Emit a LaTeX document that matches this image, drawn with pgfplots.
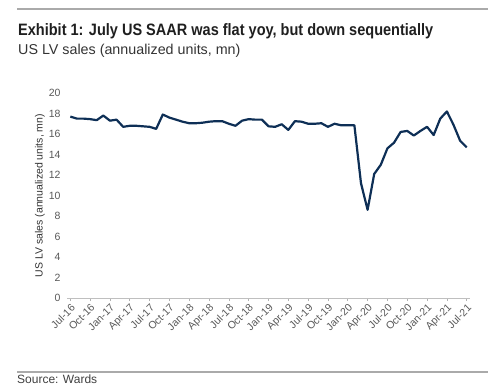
\documentclass[border=0pt]{standalone}
\usepackage{pgfplots}
\pgfplotsset{compat=1.18}
\usepackage{fontspec}
\setmainfont{Liberation Sans}
\newfontfamily\narrowfont[FakeStretch=0.88]{Liberation Sans}
\definecolor{navy}{HTML}{0E2F56}
\definecolor{tickgray}{HTML}{595959}
\definecolor{rulegray}{HTML}{AAAAAA}
\begin{document}
\begin{tikzpicture}[x=1pt,y=1pt]
\path[use as bounding box] (0,0) rectangle (500,388);
\draw[rulegray,line width=1.2pt] (17,379) -- (488,379);
\draw[rulegray,line width=1.2pt] (17,16) -- (488,16);
\node[anchor=base west,inner sep=0pt,text=black!88] at (18,352) {\narrowfont\bfseries\fontsize{16.5}{18}\selectfont Exhibit 1: July US SAAR was flat yoy, but down sequentially};
\node[anchor=base west,inner sep=0pt,text=black!80] at (18,333) {\fontsize{14.3}{16}\selectfont US LV sales (annualized units, mn)};
\node[anchor=base west,inner sep=0pt,text=black!75] at (17,5) {\fontsize{12}{14}\selectfont Source: Wards};
\begin{axis}[
  at={(67pt,90pt)}, anchor=south west,
  scale only axis, width=403pt, height=205pt,
  xmin=-0.5, xmax=60.5, ymin=0, ymax=20,
  ytick={0,2,...,20},
  xtick={0,3,...,60},
  xticklabels={Jul-16,Oct-16,Jan-17,Apr-17,Jul-17,Oct-17,Jan-18,Apr-18,Jul-18,Oct-18,Jan-19,Apr-19,Jul-19,Oct-19,Jan-20,Apr-20,Jul-20,Oct-20,Jan-21,Apr-21,Jul-21},
  axis x line*=bottom, axis y line*=left,
  y axis line style={draw=none},
  x axis line style={draw=black!25, line width=0.8pt},
  ytick style={draw=none},
  xtick style={draw=black!30, line width=0.6pt},
  tick align=outside, major tick length=3pt,
  /pgf/number format/assume math mode=true,
  tick label style={font=\fontsize{10.5}{12}\selectfont, text=tickgray},
  x tick label style={rotate=45, anchor=north east, inner sep=1.5pt},
  ylabel={US LV sales (annualized units, mn)},
  ylabel style={at={(axis description cs:-0.067,0.5)}, anchor=center, font=\fontsize{10.5}{12}\selectfont, text=black!80},
  clip=false,
]
\addplot[navy, line width=2.2pt, line join=round] coordinates {
(0,17.7)(1,17.5)(2,17.5)(3,17.45)(4,17.35)(5,17.8)(6,17.3)(7,17.4)(8,16.7)(9,16.8)
(10,16.8)(11,16.75)(12,16.7)(13,16.5)(14,17.9)(15,17.6)(16,17.4)(17,17.2)(18,17.05)(19,17.05)
(20,17.1)(21,17.2)(22,17.25)(23,17.25)(24,17.0)(25,16.8)(26,17.3)(27,17.45)(28,17.4)(29,17.4)
(30,16.75)(31,16.7)(32,16.95)(33,16.4)(34,17.25)(35,17.2)(36,17.0)(37,17.0)(38,17.05)(39,16.7)
(40,17.0)(41,16.85)(42,16.85)(43,16.85)(44,11.2)(45,8.6)(46,12.1)(47,13.0)(48,14.6)(49,15.15)
(50,16.2)(51,16.3)(52,15.85)(53,16.3)(54,16.7)(55,15.9)(56,17.5)(57,18.2)(58,16.9)(59,15.35)
(60,14.7)
};
\end{axis}
\end{tikzpicture}
\end{document}
